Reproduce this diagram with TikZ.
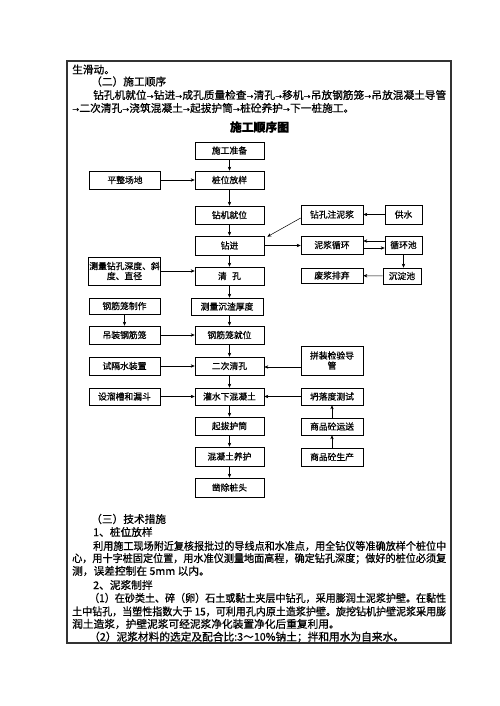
\documentclass[tikz,border=0pt]{standalone}
\usepackage{fontspec}
\usepackage{graphicx}
\setmainfont{Noto Sans CJK SC}[FakeBold=0.7]
\usetikzlibrary{arrows.meta,calc}
\newcommand\rarr{\makebox[7.2pt]{\resizebox{6.6pt}{!}{→}}}
\newcommand\jline[5]{\node[bodytxt] (#1) at (#2,#3) {\resizebox{#4pt}{\height}{#5}};}
\tikzset{
  bodytxt/.style={anchor=west,inner sep=0pt,font=\fontsize{10.7}{12.5}\selectfont},
  fbox/.style={draw=black,line width=0.6pt,inner sep=1pt,align=center,font=\fontsize{8.8}{10}\selectfont,minimum width=69pt,minimum height=18pt},
  lbox/.style={fbox,minimum width=71pt},
  rbox/.style={fbox,minimum width=62pt},
  sbox/.style={fbox,minimum width=37pt},
  arr/.style={draw=black,line width=0.5pt,-{Stealth[length=4pt,width=3.4pt]}}
}
\begin{document}
\begin{tikzpicture}[x=1pt,y=-1pt]
\useasboundingbox (0,0) rectangle (500,706);
\fill[white] (0,0) rectangle (500,706);
\draw[line width=1.4pt,draw=black!80] (67,61) rectangle (451,643);
% top text
\node[bodytxt] (t1) at (72,69.5) {生滑动。};
\node[bodytxt] (t2) at (91,81.5) {（二）施工顺序};
\jline{t3}{93}{95}{353}{钻孔机就位\rarr 钻进\rarr 成孔质量检查\rarr 清孔\rarr 移机\rarr 吊放钢筋笼\rarr 吊放混凝土导管}
\node[bodytxt] (t4) at (72,108) {\rarr 二次清孔\rarr 浇筑混凝土\rarr 起拔护筒\rarr 桩砼养护\rarr 下一桩施工。};
% title
\node[inner sep=0pt,font=\fontsize{11.8}{13}\selectfont\bfseries] (title) at (259.5,127) {施工顺序图};
% boxes
\node[fbox,minimum height=17pt] (prep) at (229.5,150.5) {施工准备};
\node[fbox] (pos) at (229.5,180) {桩位放样};
\node[lbox] (level) at (125,180) {平整场地};
\node[fbox] (rig) at (229.5,215) {钻机就位};
\node[rbox,minimum height=19pt] (inject) at (332,214.5) {钻孔注泥浆};
\node[sbox,minimum height=19pt] (water) at (403.5,214.5) {供水};
\node[fbox,minimum height=19pt] (drill) at (229.5,245.5) {钻进};
\node[rbox] (circ) at (332,245) {泥浆循环};
\node[sbox] (pool) at (403.5,245) {循环池};
\node[fbox] (clean) at (229.5,276) {清\hspace{0.6em}孔};
\node[lbox,minimum height=28pt] (measure) at (124.5,271) {测量钻孔深度、斜\\度、直径};
\node[rbox,minimum height=15pt] (waste) at (332,275.5) {废浆排弃};
\node[sbox,minimum width=38pt,minimum height=16pt] (settle) at (402,276) {沉淀池};
\node[lbox,minimum height=16pt] (cagemake) at (124.5,306) {钢筋笼制作};
\node[fbox,minimum width=72pt,minimum height=17pt] (sediment) at (227,306.5) {测量沉渣厚度};
\node[lbox] (cagelift) at (124.5,335) {吊装钢筋笼};
\node[fbox] (cagepos) at (229.5,335) {钢筋笼就位};
\node[rbox,minimum height=29pt] (pipe) at (332,360.5) {拼装检验导\\管};
\node[lbox] (sep) at (124.5,366) {试隔水装置};
\node[fbox] (second) at (229.5,366) {二次清孔};
\node[lbox,minimum height=17pt] (chute) at (124.5,396.5) {设溜槽和漏斗};
\node[fbox,minimum height=17pt] (pour) at (229.5,396.5) {灌水下混凝土};
\node[rbox,minimum height=17pt] (slump) at (332,396.5) {坍落度测试};
\node[fbox] (pull) at (229.5,426) {起拔护筒};
\node[rbox,minimum height=17pt] (trans) at (332,426.5) {商品砼运送};
\node[fbox,minimum height=19pt] (cure) at (229.5,456.5) {混凝土养护};
\node[rbox] (produce) at (332,457) {商品砼生产};
\node[fbox,minimum height=19pt] (cut) at (229.5,487.5) {凿除桩头};
% connectors
\draw[arr] (prep) -- (pos);
\draw[arr] (level) -- (pos);
\draw[arr] (pos) -- (rig);
\draw[arr] (rig) -- (drill);
\draw[arr] ([yshift=-3.5pt]inject.west) -- ([xshift=3pt,yshift=-1pt]drill.north east);
\draw[arr] (water) -- (inject);
\draw[arr] (drill.east) -- (drill.east -| circ.west);
\draw[arr] ([yshift=4pt]pool.west) -- ([yshift=4pt]pool.west -| circ.east);
\draw[arr] ([yshift=-3pt]circ.east) -- ([yshift=-3pt]circ.east -| pool.west);
\draw[arr] (pool.south) -- (pool.south |- settle.north);
\draw[arr] (settle) -- (waste);
\draw[arr] (drill) -- (clean);
\draw[arr] (measure.east) -- (measure.east -| clean.west);
\draw[arr] (clean.south) -- (clean.south |- sediment.north);
\draw[arr] (cagepos.north |- sediment.south) -- (cagepos.north);
\draw[arr] (cagemake) -- (cagelift);
\draw[arr] (cagelift) -- (cagepos);
\draw[arr] (cagepos) -- (second);
\draw[arr] (sep) -- (second);
\draw[arr] ([yshift=-1pt]pipe.west |- second.east) -- ([yshift=-1pt]second.east);
\draw[arr] (second) -- (pour);
\draw[arr] (chute) -- (pour);
\draw[arr] (slump) -- (pour);
\draw[arr] (trans) -- (slump);
\draw[arr] (produce) -- (trans);
\draw[arr] (pour) -- (pull);
\draw[arr] (pull) -- (cure);
\draw[arr] (cure) -- (cut);
% bottom text
\node[bodytxt] (b1) at (91,519) {（三）技术措施};
\node[bodytxt] (b2) at (93,532) {1、桩位放样};
\jline{b3}{93}{546}{353}{利用施工现场附近复核报批过的导线点和水准点，用全钻仪等准确放样个桩位中}
\jline{b4}{72}{558.5}{374}{心，用十字桩固定位置，用水准仪测量地面高程，确定钻孔深度；做好的桩位必须复}
\node[bodytxt] (b5) at (72,571) {测，误差控制在 5mm 以内。};
\node[bodytxt] (b6) at (93,585) {2、泥浆制拌};
\jline{b7}{89}{598}{357}{（1）在砂类土、碎（卵）石土或黏土夹层中钻孔，采用膨润土泥浆护壁。在黏性}
\jline{b8}{72}{611.5}{374}{土中钻孔，当塑性指数大于 15，可利用孔内原土造浆护壁。旋挖钻机护壁泥浆采用膨}
\node[bodytxt] (b9) at (72,624) {润土造浆，护壁泥浆可经泥浆净化装置净化后重复利用。};
\node[bodytxt] (b10) at (89,637) {（2）泥浆材料的选定及配合比:3～10\%钠土；拌和用水为自来水。};
\end{tikzpicture}
\end{document}
